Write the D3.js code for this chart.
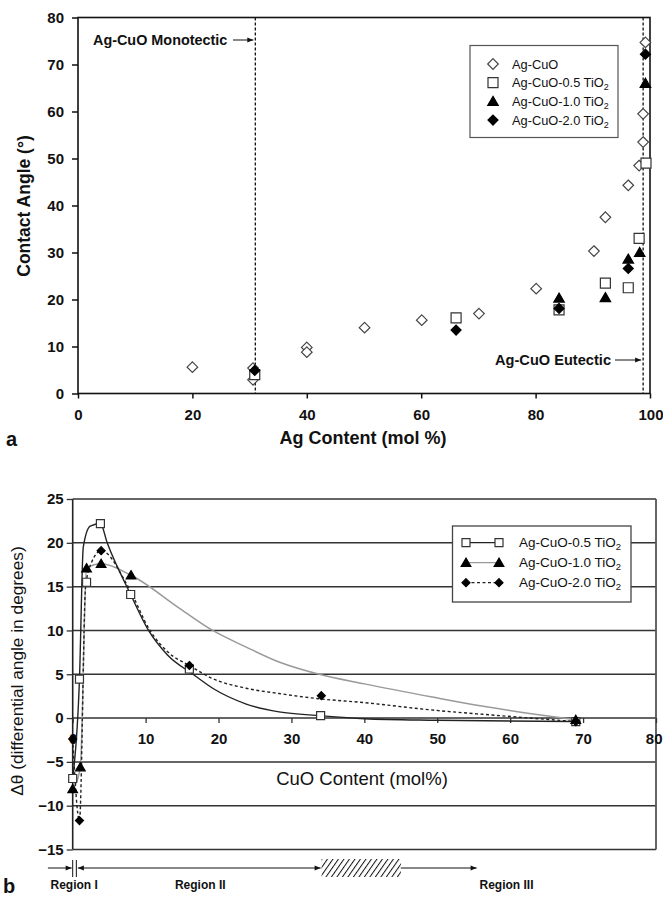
<!DOCTYPE html>
<html>
<head>
<meta charset="utf-8">
<script src="https://d3js.org/d3.v7.min.js"></script>
<style>
  body { margin: 0; background: #fff; }
  text { font-family: "Liberation Sans", Arial, sans-serif; fill: #111; }
</style>
</head>
<body>
<script>
// ---- panel a: contact angle vs Ag content ----
var agCuO   = [[20,5.6],[30.6,5.4],[30.6,2.9],[40,9.8],[40,8.8],[50.1,14.0],[60.1,15.6],[70.1,17.0],
               [80.1,22.3],[90.2,30.3],[92.2,37.5],[96.2,44.3],[98.1,48.5],[98.8,53.5],[98.8,59.5],[99.2,74.7]];
var agCuO05 = [[30.9,4.0],[66.1,16.1],[84.1,17.8],[92.2,23.5],[96.2,22.5],[98.1,33.0],[99.3,49.0]];
var agCuO10 = [[84.1,20.3],[92.2,20.4],[96.2,28.6],[98.2,30.0],[99.2,66.0]];
var agCuO20 = [[30.9,4.9],[66.1,13.5],[84.1,18.1],[96.2,26.6],[99.2,72.2]];
var monotectic = 31.0, eutectic = 98.8;
var aTicksX = [0,20,40,60,80,100];
var aTicksY = [0,10,20,30,40,50,60,70,80];
var aLegend = ["Ag-CuO", "Ag-CuO-0.5 TiO", "Ag-CuO-1.0 TiO", "Ag-CuO-2.0 TiO"];

// ---- panel b: differential angle vs CuO content ----
var dSq  = [[0,-6.9],[0.93,4.45],[1.9,15.5],[3.8,22.2],[7.95,14.1],[16,5.6],[34,0.27],[69,-0.4]];
var dTri = [[0,-8.1],[1.05,-5.6],[1.9,17.1],[3.9,17.6],[8,16.3],[69,-0.2]];
var dDia = [[0,-2.4],[0.93,-11.7],[3.9,19.1],[16,6.0],[34.1,2.55],[69,-0.4]];
// smoothed curves
var fit05 = [[0,-6.9],[0.93,4.45],[1.45,19.5],[2.4,21.9],[3.8,22.2],[4.73,20],[7.95,14.1],[10.4,10],[13,7.2],
             [16.5,5.0],[19.2,3.4],[23.8,1.6],[28.3,0.7],[34,0.27],[40,-0.07],[50,-0.25],[69,-0.4]];
var fit10 = [[0,-8.1],[1.05,-5.6],[1.9,17.1],[3.9,17.6],[8,16.3],[14.7,12.5],[19.2,10.0],[23.8,8.1],[28.3,6.4],
             [33.8,5.0],[40,3.9],[49.3,2.4],[56.1,1.37],[62.9,0.5],[69,-0.2]];
var fit20 = [[0,-2.4],[0.93,-11.7],[1.77,15],[2.6,17.8],[3.9,19.1],[7.6,15],[10.6,10],[13.1,7.5],[16,6.0],[19.2,4.5],
             [23.8,3.4],[28.3,2.8],[33.8,2.2],[40,1.76],[48.8,0.96],[59.7,0.2],[69,-0.4]];
var bTicksX = [0,10,20,30,40,50,60,70,80];
var bTicksY = [-15,-10,-5,0,5,10,15,20,25];
var bLegend = ["Ag-CuO-0.5 TiO", "Ag-CuO-1.0 TiO", "Ag-CuO-2.0 TiO"];
// region bar below panel b (CuO mol%)
var regionMarks = [-3.4, 0, 0.5, 34, 45, 55.4];
var regionLabels = [["Region I", 0.2], ["Region II", 17.5], ["Region III", 59.5]];

var svg = d3.select("body").append("svg").attr("width", 663).attr("height", 897);
svg.append("rect").attr("width", 663).attr("height", 897).attr("fill", "#fff");

var defs = svg.append("defs");
defs.append("marker").attr("id", "ah").attr("viewBox", "0 0 10 10").attr("refX", 10).attr("refY", 5)
  .attr("markerWidth", 7).attr("markerHeight", 6).attr("orient", "auto-start-reverse")
  .append("path").attr("d", "M0,1L10,5L0,9Z").attr("fill", "#111");
var pat = defs.append("pattern").attr("id", "hatch").attr("width", 4.5).attr("height", 4.5)
  .attr("patternUnits", "userSpaceOnUse").attr("patternTransform", "rotate(35)");
pat.append("line").attr("x1", 0).attr("y1", 0).attr("x2", 0).attr("y2", 4.5)
  .attr("stroke", "#111").attr("stroke-width", 2);

function diamond(r) { return "M0," + (-r) + "L" + r + ",0L0," + r + "L" + (-r) + ",0Z"; }
function square(r) { return "M" + (-r) + "," + (-r) + "h" + (2*r) + "v" + (2*r) + "h" + (-2*r) + "Z"; }
function tri(r) { return "M0," + (-r) + "L" + (r*1.05) + "," + (r*0.8) + "L" + (-r*1.05) + "," + (r*0.8) + "Z"; }

function subLabel(g, x, y, txt, size, weight) {
  var t = g.append("text").attr("x", x).attr("y", y).attr("font-size", size).attr("font-weight", weight || "normal");
  if (txt.slice(-3) === "TiO") {
    t.append("tspan").text(txt);
    t.append("tspan").attr("font-size", size * 0.7).attr("dy", 3).text("2");
  } else t.text(txt);
  return t;
}

// ================= panel a =================
var xA = d3.scaleLinear().domain([0, 100]).range([78, 650]);
var yA = d3.scaleLinear().domain([0, 80]).range([393.5, 17.5]);
var ga = svg.append("g");

var axA = ga.append("g").attr("transform", "translate(0," + yA(0) + ")")
  .call(d3.axisBottom(xA).tickValues(aTicksX).tickSize(5).tickPadding(11));
var ayA = ga.append("g").attr("transform", "translate(" + xA(0) + ",0)")
  .call(d3.axisLeft(yA).tickValues(aTicksY).tickSize(6).tickPadding(8));
[axA, ayA].forEach(function(a) {
  a.select(".domain").remove();
  a.selectAll("line").attr("stroke", "#111").attr("stroke-width", 1.5);
  a.selectAll("text").attr("font-size", 15).attr("font-weight", "bold").attr("fill", "#111")
    .attr("font-family", "'Liberation Sans', Arial, sans-serif");
});
axA.selectAll(".tick text").filter(function(d) { return d === 100; }).attr("text-anchor", "end").attr("x", 13);
ga.append("rect").attr("x", xA(0)).attr("y", yA(80)).attr("width", xA(100) - xA(0)).attr("height", yA(0) - yA(80))
  .attr("fill", "none").attr("stroke", "#111").attr("stroke-width", 1.6);

[monotectic, eutectic].forEach(function(v) {
  ga.append("line").attr("x1", xA(v)).attr("x2", xA(v)).attr("y1", yA(80)).attr("y2", yA(0))
    .attr("stroke", "#111").attr("stroke-width", 1.3).attr("stroke-dasharray", "3,2");
});
ga.append("text").attr("x", 93).attr("y", 44.5).attr("font-size", 14.4).attr("font-weight", "bold")
  .text("Ag-CuO Monotectic");
ga.append("line").attr("x1", 233).attr("x2", xA(monotectic) - 2).attr("y1", 40).attr("y2", 40)
  .attr("stroke", "#111").attr("stroke-width", 1).attr("marker-end", "url(#ah)");
ga.append("text").attr("x", 611).attr("y", 364.5).attr("text-anchor", "end").attr("font-size", 14.6)
  .attr("font-weight", "bold").text("Ag-CuO Eutectic");
ga.append("line").attr("x1", 615).attr("x2", xA(eutectic) - 2).attr("y1", 360).attr("y2", 360)
  .attr("stroke", "#111").attr("stroke-width", 1).attr("marker-end", "url(#ah)");

var aSeries = [
  {data: agCuO,   d: diamond(5.3), fill: "#fff", stroke: "#444"},
  {data: agCuO05, d: square(5),    fill: "#fff", stroke: "#333"},
  {data: agCuO10, d: tri(5),       fill: "#000", stroke: "#000"},
  {data: agCuO20, d: diamond(5),   fill: "#000", stroke: "#000"}
];
aSeries.forEach(function(s) {
  ga.append("g").selectAll("path").data(s.data).enter().append("path")
    .attr("transform", function(p) { return "translate(" + xA(p[0]) + "," + yA(p[1]) + ")"; })
    .attr("d", s.d).attr("fill", s.fill).attr("stroke", s.stroke).attr("stroke-width", 1.2);
});

// legend a
var lga = ga.append("g");
lga.append("rect").attr("x", 470).attr("y", 45.5).attr("width", 148).attr("height", 92)
  .attr("fill", "#fff").attr("stroke", "#555").attr("stroke-width", 1.2);
aLegend.forEach(function(name, i) {
  var y = 64 + i * 18.7;
  lga.append("path").attr("transform", "translate(493," + y + ")").attr("d", aSeries[i].d)
    .attr("fill", aSeries[i].fill).attr("stroke", aSeries[i].stroke).attr("stroke-width", 1.2);
  subLabel(lga, 512, y + 4.5, name, 12.8);
});

ga.append("text").attr("transform", "translate(30,206) rotate(-90)").attr("text-anchor", "middle")
  .attr("font-size", 17.5).attr("font-weight", "bold").text("Contact Angle (\u00b0)");
ga.append("text").attr("x", 363).attr("y", 444).attr("text-anchor", "middle")
  .attr("font-size", 18).attr("font-weight", "bold").text("Ag Content (mol %)");
ga.append("text").attr("x", 6).attr("y", 446).attr("font-size", 20).attr("font-weight", "bold").text("a");

// ================= panel b =================
var xB = d3.scaleLinear().domain([0, 80]).range([72.7, 656]);
var yB = d3.scaleLinear().domain([-15, 25]).range([849.5, 499]);
var gb = svg.append("g");

gb.append("g").selectAll("line").data(bTicksY).enter().append("line")
  .attr("x1", xB(0)).attr("x2", xB(80)).attr("y1", function(d) { return yB(d); }).attr("y2", function(d) { return yB(d); })
  .attr("stroke", "#333").attr("stroke-width", 1.5);
gb.append("line").attr("x1", xB(80)).attr("x2", xB(80)).attr("y1", yB(25)).attr("y2", yB(-15))
  .attr("stroke", "#555").attr("stroke-width", 1.8);
gb.append("line").attr("x1", xB(0)).attr("x2", xB(0)).attr("y1", yB(25)).attr("y2", yB(-15))
  .attr("stroke", "#222").attr("stroke-width", 1.6);

var axB = gb.append("g").attr("transform", "translate(0," + yB(0) + ")")
  .call(d3.axisBottom(xB).tickValues(bTicksX).tickSize(5).tickPadding(10));
var ayB = gb.append("g").attr("transform", "translate(" + xB(0) + ",0)")
  .call(d3.axisLeft(yB).tickValues(bTicksY).tickSize(6).tickPadding(3));
[axB, ayB].forEach(function(a) {
  a.select(".domain").remove();
  a.selectAll("line").attr("stroke", "#333").attr("stroke-width", 1.3);
  a.selectAll("text").attr("font-size", 15).attr("font-weight", "bold").attr("fill", "#111")
    .attr("font-family", "'Liberation Sans', Arial, sans-serif");
});
axB.selectAll(".tick text").filter(function(d) { return d === 80; }).attr("text-anchor", "end").attr("x", 6);

var curve = d3.line().x(function(p) { return xB(p[0]); }).y(function(p) { return yB(p[1]); })
  .curve(d3.curveMonotoneX);
gb.append("path").attr("d", curve(fit10)).attr("fill", "none").attr("stroke", "#9a9a9a").attr("stroke-width", 1.5);
gb.append("path").attr("d", curve(fit05)).attr("fill", "none").attr("stroke", "#222").attr("stroke-width", 1.4);
gb.append("path").attr("d", curve(fit20)).attr("fill", "none").attr("stroke", "#222").attr("stroke-width", 1.4)
  .attr("stroke-dasharray", "3,2.5");

var bSeries = [
  {data: dSq,  d: square(4),   fill: "#fff", stroke: "#333", line: "#222", dash: null},
  {data: dTri, d: tri(4.6),    fill: "#000", stroke: "#000", line: "#9a9a9a", dash: null},
  {data: dDia, d: diamond(4),  fill: "#000", stroke: "#000", line: "#222", dash: "3,2.5"}
];
bSeries.forEach(function(s) {
  gb.append("g").selectAll("path").data(s.data).enter().append("path")
    .attr("transform", function(p) { return "translate(" + xB(p[0]) + "," + yB(p[1]) + ")"; })
    .attr("d", s.d).attr("fill", s.fill).attr("stroke", s.stroke).attr("stroke-width", 1.2);
});

// legend b
var lgb = gb.append("g");
lgb.append("rect").attr("x", 452.5).attr("y", 526).attr("width", 178.5).attr("height", 76)
  .attr("fill", "#fff").attr("stroke", "#444").attr("stroke-width", 1.3);
bLegend.forEach(function(name, i) {
  var y = 542.7 + i * 20, s = bSeries[i];
  lgb.append("line").attr("x1", 466).attr("x2", 499).attr("y1", y).attr("y2", y)
    .attr("stroke", s.line).attr("stroke-width", 1.3).attr("stroke-dasharray", s.dash);
  [466, 499].forEach(function(x) {
    lgb.append("path").attr("transform", "translate(" + x + "," + y + ")").attr("d", s.d)
      .attr("fill", s.fill).attr("stroke", s.stroke).attr("stroke-width", 1.2);
  });
  subLabel(lgb, 519, y + 4.5, name, 13.5);
});

gb.append("text").attr("transform", "translate(23,671) rotate(-90)").attr("text-anchor", "middle")
  .attr("font-size", 17.3).text("\u0394\u03b8 (differential angle in degrees)");
gb.append("text").attr("x", 362).attr("y", 785).attr("text-anchor", "middle")
  .attr("font-size", 18.5).text("CuO Content (mol%)");

// region bar
var ry = 868;
var rb = gb.append("g");
rb.append("line").attr("x1", xB(regionMarks[0])).attr("x2", xB(regionMarks[1]) - 1).attr("y1", ry).attr("y2", ry)
  .attr("stroke", "#111").attr("marker-end", "url(#ah)");
[regionMarks[1], regionMarks[2]].forEach(function(v) {
  rb.append("line").attr("x1", xB(v)).attr("x2", xB(v)).attr("y1", ry - 8).attr("y2", ry + 9)
    .attr("stroke", "#111").attr("stroke-width", 1);
});
rb.append("line").attr("x1", xB(regionMarks[2]) + 1.5).attr("x2", xB(regionMarks[3])).attr("y1", ry).attr("y2", ry)
  .attr("stroke", "#111").attr("marker-start", "url(#ah)").attr("marker-end", "url(#ah)");
rb.append("rect").attr("x", xB(regionMarks[3]) + 1).attr("y", ry - 9).attr("width", xB(regionMarks[4]) - xB(regionMarks[3]) - 1)
  .attr("height", 18).attr("fill", "url(#hatch)");
rb.append("line").attr("x1", xB(regionMarks[4])).attr("x2", xB(regionMarks[5])).attr("y1", ry).attr("y2", ry)
  .attr("stroke", "#111").attr("marker-end", "url(#ah)");
regionLabels.forEach(function(r) {
  rb.append("text").attr("x", xB(r[1])).attr("y", 889).attr("text-anchor", "middle")
    .attr("font-size", 12).attr("font-weight", "bold").text(r[0]);
});
gb.append("text").attr("x", 3).attr("y", 893).attr("font-size", 20).attr("font-weight", "bold").text("b");
</script>
</body>
</html>
